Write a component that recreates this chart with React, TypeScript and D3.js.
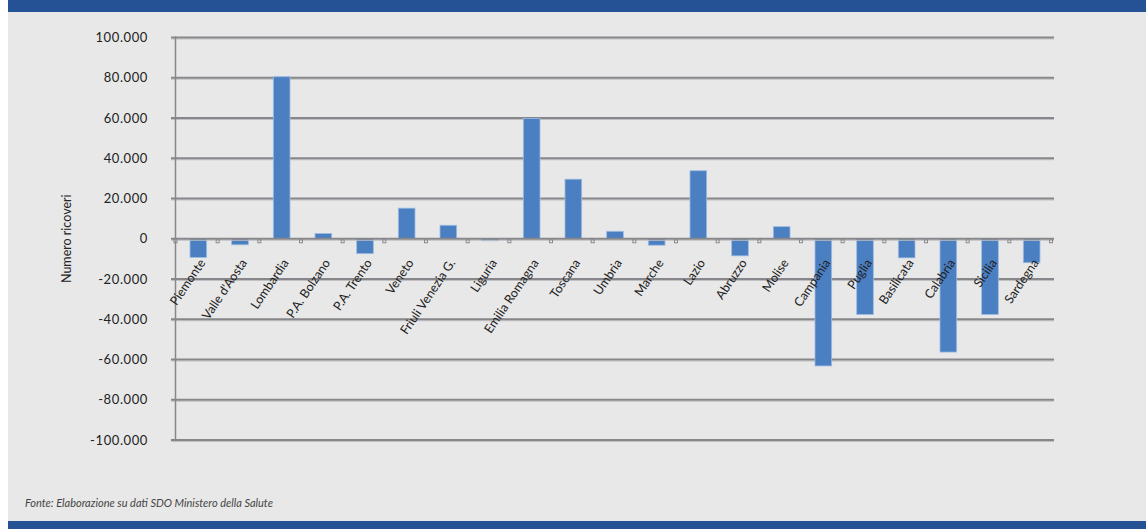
import React from "react";
import * as d3 from "d3";

const regions = ["Piemonte","Valle d'Aosta","Lombardia","P.A. Bolzano","P.A. Trento","Veneto","Friuli Venezia G.","Liguria","Emilia Romagna","Toscana","Umbria","Marche","Lazio","Abruzzo","Molise","Campania","Puglia","Basilicata","Calabria","Sicilia","Sardegna"];
const values = [-9300,-3000,80500,2600,-7400,15200,6700,-1000,59800,29600,3700,-3200,33800,-8500,6000,-63200,-37600,-9500,-56300,-37600,-11900];
const yTicks = [100000,80000,60000,40000,20000,0,-20000,-40000,-60000,-80000,-100000];
const yTitle = "Numero ricoveri";
const source = "Fonte: Elaborazione su dati SDO Ministero della Salute";

const W = 1146, H = 529;
const fmt = (v: number) => v === 0 ? "0" : d3.format(",")(v).replace(/,/g, ".").replace("\u2212", "-");

export default function App() {
  const x = d3.scaleBand<string>().domain(regions).range([176, 1051]).paddingInner(0.6).paddingOuter(0.3);
  const xb = d3.scaleBand<string>().domain(regions).range([176, 1051]);
  const y = d3.scaleLinear().domain([-100000, 100000]).range([440, 37.5]);
  const y0 = y(0);
  const font = "Lato, 'DejaVu Sans', sans-serif";
  return (
    <div style={{ position: "absolute", left: 0, top: 0, width: W, height: H, background: "#fff" }}>
      <svg width={W} height={H} style={{ display: "block" }}>
        <rect x={8} y={0} width={W - 8} height={H} fill="#e8e8e8" />
        <rect x={8} y={0} width={W - 8} height={12} fill="#245294" />
        <rect x={8} y={521} width={W - 8} height={8} fill="#245294" />
        {yTicks.filter(t => t !== 0).map(t => (
          <g key={t}>
            <line x1={171} x2={1054} y1={y(t) + 1.5} y2={y(t) + 1.5} stroke="#c0c0c2" strokeWidth={1} />
            <line x1={171} x2={1054} y1={y(t)} y2={y(t)} stroke="#87878b" strokeWidth={2} />
          </g>
        ))}
        <line x1={175.5} x2={175.5} y1={y(100000) - 1} y2={y(-100000) + 1} stroke="#87878b" strokeWidth={1.5} />
        {regions.map((r, i) => {
          const v = values[i];
          const top = Math.min(y(v), y0);
          const h = Math.abs(y(v) - y0);
          return <rect key={r} x={(x(r) as number) + 1.5} y={top} width={x.bandwidth()} height={h} fill="#4a7fc2" stroke="#9dbbe2" strokeWidth={0.8} />;
        })}
        <line x1={171} x2={1054} y1={y0 + 1.5} y2={y0 + 1.5} stroke="#c0c0c2" strokeWidth={1} />
        <line x1={171} x2={1054} y1={y0} y2={y0} stroke="#87878b" strokeWidth={2} />
        {regions.map(r => {
          const bx = (xb(r) as number) + xb.bandwidth();
          return <rect key={"t" + r} x={bx - 1.5} y={y0 + 1} width={3} height={3} fill="none" stroke="#8a8a8e" strokeWidth={1} />;
        })}
        <rect x={174} y={y0 + 1} width={3} height={3} fill="none" stroke="#8a8a8e" strokeWidth={1} />
        {yTicks.map(t => (
          <text key={"l" + t} x={148} y={y(t)} dy="0.35em" textAnchor="end" fontFamily={font} fontSize={13} fill="#222" letterSpacing={0.6}>{fmt(t)}</text>
        ))}
        <text transform={`translate(71,${y0}) rotate(-90)`} textAnchor="middle" fontFamily={font} fontSize={12.5} fill="#222">{yTitle}</text>
        {regions.map(r => {
          const cx = (xb(r) as number) + xb.bandwidth() / 2;
          return (
            <text key={"x" + r} transform={`translate(${cx + 9},${y0 + 24}) rotate(-56)`} textAnchor="end" fontFamily={font} fontSize={12.5} fill="#222">{r}</text>
          );
        })}
        <text x={25} y={507} fontFamily={font} fontStyle="italic" fontSize={11} fill="#444">{source}</text>
      </svg>
    </div>
  );
}
